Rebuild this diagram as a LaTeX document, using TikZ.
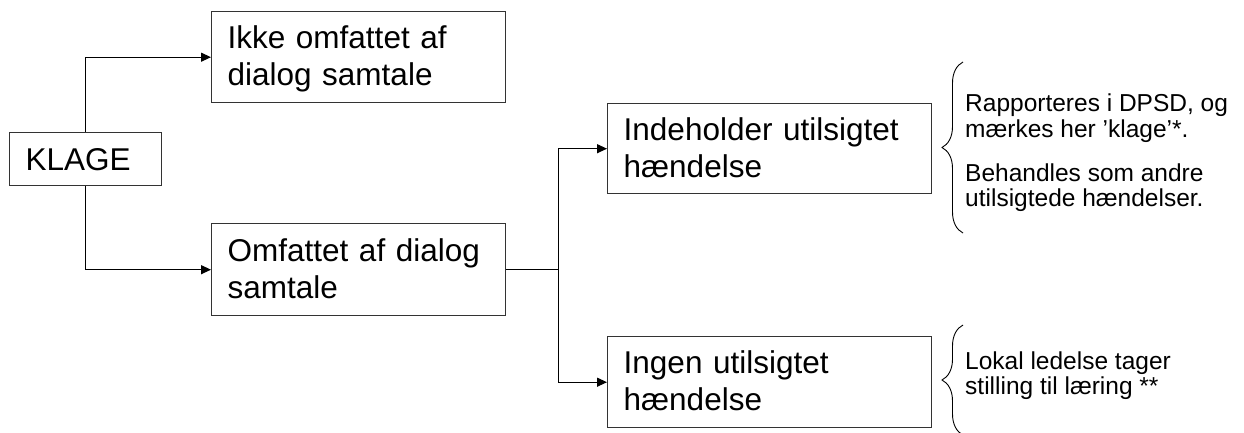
\documentclass[tikz,border=0pt]{standalone}
\usepackage{fontspec}
\setmainfont{Liberation Sans}
\usetikzlibrary{arrows.meta,decorations.pathreplacing}
\begin{document}
\begin{tikzpicture}[x=1pt,y=-1pt,
  box/.style={draw=black!80, line width=1.4pt, rectangle, anchor=north west,
    inner xsep=16pt, inner ysep=0pt, align=left,
    font=\fontsize{31.5}{37}\selectfont, text height=23pt, text depth=40pt},
  conn/.style={line width=1.2pt, -{Triangle[length=10pt,width=9pt]}},
  plain/.style={line width=1.2pt},
  rt/.style={anchor=base west, inner sep=0pt, font=\fontsize{24.5}{25}\selectfont},
  brc/.style={decorate, decoration={brace, amplitude=21pt}, line width=0.9pt}]
\useasboundingbox (0,0) rectangle (1244,433);

\node[box, text width=120pt, minimum height=53pt, text height=22pt, text depth=0pt] (klage) at (9,132) {KLAGE};
\node[box, text width=262pt, minimum height=91pt] (ikke) at (211,11) {Ikke omfattet af\\dialog samtale};
\node[box, text width=262pt, minimum height=92pt] (omf) at (211,223) {Omfattet af dialog\\samtale};
\node[box, text width=292pt, minimum height=90pt] (ind) at (607,103) {Indeholder utilsigtet\\hændelse};
\node[box, text width=292pt, minimum height=91pt] (ing) at (607,336) {Ingen utilsigtet\\hændelse};

\draw[conn] (klage.north) |- (ikke.west);
\draw[conn] (klage.south) |- (omf.west);
\path (omf.east) ++(52,0) coordinate (split);
\draw[plain] (omf.east) -- (split);
\draw[conn] (split) |- (ind.west);
\draw[conn] (split) |- (ing.west);

\coordinate (b1s) at (963,233);
\coordinate (b1e) at (963,62);
\draw[brc] (b1s) -- (b1e);
\coordinate (b2s) at (963,435);
\coordinate (b2e) at (963,325);
\draw[brc] (b2s) -- (b2e);

\node[rt] (r1) at (965,112) {Rapporteres i DPSD, og};
\node[rt] (r2) at (965,137) {mærkes her ’klage’*.};
\node[rt] (r3) at (965,181) {Behandles som andre};
\node[rt] (r4) at (965,206) {utilsigtede hændelser.};
\node[rt] (l1) at (965,369) {Lokal ledelse tager};
\node[rt] (l2) at (965,394) {stilling til læring **};
\end{tikzpicture}
\end{document}
